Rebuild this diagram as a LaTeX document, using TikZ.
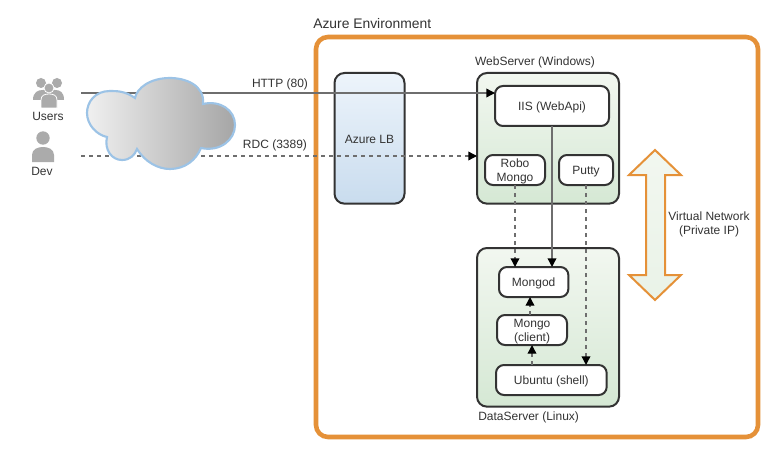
\documentclass[tikz,border=0pt]{standalone}
\usepackage{fontspec}
\setmainfont{Liberation Sans}
\usetikzlibrary{positioning, arrows.meta, calc}
\definecolor{azorange}{HTML}{E59138}
\definecolor{azline}{HTML}{333333}
\definecolor{azlink}{HTML}{6E6E6E}
\definecolor{aztext}{HTML}{333333}
\definecolor{azbluetop}{HTML}{EDF4FB}
\definecolor{azbluebot}{HTML}{C9DCEE}
\definecolor{azgreentop}{HTML}{F2F7F0}
\definecolor{azgreenbot}{HTML}{D5E8D4}
\definecolor{azcloud}{HTML}{9CC3E6}
\definecolor{azicon}{HTML}{ABABAB}
\tikzset{
  lbl/.style={text=aztext, font=\fontsize{9}{10.5}\selectfont, align=center, inner sep=0pt},
  groupbox/.style={draw=azline, line width=1.5pt, rounded corners=7.5pt, top color=azgreentop, bottom color=azgreenbot, anchor=north west, inner sep=0pt, outer sep=0pt},
  appbox/.style={draw=azline, line width=1.5pt, rounded corners=6pt, fill=white, text=aztext, font=\fontsize{9}{10.5}\selectfont, align=center, inner sep=0pt, outer sep=0pt, anchor=north west, execute at begin node={\rule{0pt}{8.5pt}}},
  twolines/.style={text depth=-1pt},
  link/.style={draw=azlink, line width=1pt, -{Triangle[length=6.5pt,width=6.5pt,black]}},
  dashlink/.style={link, dash pattern=on 3pt off 3pt},
}
\begin{document}
\begin{tikzpicture}[x=.75pt,y=-.75pt]
  \useasboundingbox (0,0) rectangle (777,456);
  \fill[white] (0,0) rectangle (777,456);
  % outer frame
  \node[draw=azorange, line width=3.4pt, rounded corners=9pt, fill=white, minimum width=331.5pt, minimum height=300pt, anchor=north west, inner sep=0pt, outer sep=0pt] (azure) at (316,37) {};
  \node[lbl, font=\fontsize{10.4}{12}\selectfont, anchor=west] (azuretitle) at (313,24) {Azure Environment};
  % load balancer and servers
  \node[draw=azline, line width=1.5pt, rounded corners=7.5pt, top color=azbluetop, bottom color=azbluebot, text=aztext, font=\fontsize{9}{10.5}\selectfont, minimum width=52.5pt, minimum height=98pt, anchor=north west, inner sep=0pt, outer sep=0pt, execute at begin node={\rule{0pt}{8.5pt}}] (lb) at (334.5,73) {Azure LB};
  \node[groupbox, minimum width=106.5pt, minimum height=98pt] (web) at (477,73) {};
  \node[groupbox, minimum width=106.5pt, minimum height=119pt] (data) at (477,248) {};
  \node[lbl] (weblabel) at (535,62) {WebServer (Windows)};
  \node[lbl, anchor=west] (datalabel) at (478,417) {DataServer (Linux)};
  % cloud and users
  \node[lbl] (userslabel) at (48,116) {Users};
  \node[lbl] (devlabel) at (42,171) {Dev};
  \coordinate (usersend) at (81,93);
  \coordinate (devend) at (81,156);
  % apps
  \node[appbox, minimum width=85.5pt, minimum height=30pt] (iis) at (495,86) {IIS (WebApi)};
  \node[appbox, twolines, minimum width=45pt, minimum height=22.5pt] (robo) at (485,155) {Robo\\Mongo};
  \node[appbox, minimum width=40.5pt, minimum height=22.5pt] (putty) at (559,155) {Putty};
  \node[appbox, minimum width=52pt, minimum height=22.5pt] (mongod) at (499,267) {Mongod};
  \node[appbox, twolines, minimum width=52.5pt, minimum height=22.5pt] (mongo) at (497,315) {Mongo\\(client)};
  \node[appbox, minimum width=83pt, minimum height=22.5pt] (ubuntu) at (496,365) {Ubuntu (shell)};
  % connectors
  \draw[link] (usersend) -- (usersend -| iis.west);
  \draw[dashlink] (devend) -- (devend -| web.west);
  \draw[dashlink] (robo.south) -- (robo.south |- mongod.north);
  \draw[link] (iis.south) -- (iis.south |- mongod.north);
  \draw[dashlink] (putty.south) -- (putty.south |- ubuntu.north);
  \draw[dashlink] (ubuntu.north -| mongo.north) -- (mongo.south);
  \draw[dashlink] (mongo.north -| 530,0) -- (mongod.south -| 530,0);
  \node[lbl] (httplabel) at (280,84) {HTTP (80)};
  \node[lbl] (rdclabel) at (275,145) {RDC (3389)};
  % cloud
  \shade[draw=azcloud, line width=1.6pt, left color=black!6, right color=black!35]
    (135,98) .. controls (125,91) and (117,91) .. (110,91)
    .. controls (95,91) and (87,102) .. (87,113)
    .. controls (87,125) and (97,135) .. (107,137)
    .. controls (104,150) and (112,160) .. (122,160)
    .. controls (130,160) and (135,155) .. (137,149)
    .. controls (145,162) and (158,169) .. (170,169)
    .. controls (185,169) and (196,160) .. (201,148)
    .. controls (220,152) and (235,140) .. (235,125)
    .. controls (235,110) and (220,100) .. (203,104)
    .. controls (205,85) and (185,78) .. (170,78)
    .. controls (150,78) and (137,88) .. (135,98) -- cycle;
  % people
  \fill[azicon] (41,83) circle (5) (57,83) circle (5);
  \fill[azicon] (33,100) .. controls (33,92) and (38,90) .. (43,90) -- (55,90)
    .. controls (60,90) and (64,92) .. (64,100) -- cycle;
  \filldraw[azicon, draw=white, line width=.6pt] (49,88) circle (5);
  \filldraw[azicon, draw=white, line width=.6pt] (41,108) -- (41,100) .. controls (41,95) and (45,94) .. (49,94)
    .. controls (53,94) and (57,95) .. (57,100) -- (57,108) -- cycle;
  \fill[azicon] (43,138) circle (6.7);
  \fill[azicon] (32,162) -- (32,155) .. controls (32,149) and (38,147) .. (43,147) .. controls (48,147) and (54,149) .. (54,155) -- (54,162) -- cycle;
  % double arrow
  \shadedraw[draw=azorange, line width=1.5pt, top color=azgreentop, bottom color=azgreentop!70!azgreenbot]
    (655,150) -- (681,175) -- (665,175) -- (665,275) -- (681,275) -- (655,300) -- (629,275) -- (646,275) -- (646,175) -- (629,175) -- cycle;
  \node[lbl] (vnetlabel) at (709,224) {Virtual Network\\(Private IP)};
\end{tikzpicture}
\end{document}
